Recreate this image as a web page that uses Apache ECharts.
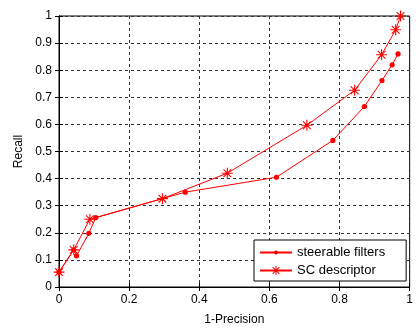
<!DOCTYPE html>
<html><head><meta charset="utf-8">
<script src="https://cdn.jsdelivr.net/npm/echarts@6/dist/echarts.min.js"></script>
<style>html,body{margin:0;padding:0;background:#fff}#c{width:416px;height:331px}</style>
</head><body><div id="c"></div>
<script>
// Data
const seriesNames = ['steerable filters', 'SC descriptor'];
const steerableX = [0, 0.042, 0.05, 0.085, 0.105, 0.36, 0.62, 0.781, 0.871, 0.921, 0.95, 0.967];
const steerableY = [0.055, 0.137, 0.115, 0.198, 0.256, 0.35, 0.405, 0.541, 0.666, 0.762, 0.82, 0.86];
const scX = [0, 0.042, 0.088, 0.295, 0.48, 0.707, 0.843, 0.92, 0.96, 0.974];
const scY = [0.055, 0.137, 0.25, 0.326, 0.42, 0.597, 0.726, 0.857, 0.949, 1.0];
const xTicks = [0, 0.2, 0.4, 0.6, 0.8, 1];
const yTicks = [0, 0.1, 0.2, 0.3, 0.4, 0.5, 0.6, 0.7, 0.8, 0.9, 1];

const pair = (xs, ys) => xs.map((x, i) => [x, ys[i]]);
const asterisk = 'path://M-1 -10L1 -10L1 10L-1 10Z M-10 -1L10 -1L10 1L-10 1Z M-7.7 -6.3L-6.3 -7.7L7.7 6.3L6.3 7.7Z M6.3 -7.7L7.7 -6.3L-6.3 7.7L-7.7 6.3Z';
// small dot inside a larger (empty) box so the legend icon stays small
const dot = 'path://M-10 -10L-10 -10Z M10 10L10 10Z M-4 0A4 4 0 1 1 4 0A4 4 0 1 1 -4 0Z';
const font = 'Liberation Sans';
const red = '#ff0000';

const chart = echarts.init(document.getElementById('c'), null, {renderer: 'canvas'});
const fmt = v => String(Math.round(v * 10) / 10);
const baseAxis = {
  min: 0, max: 1,
  axisLine: {show: true, lineStyle: {color: '#000', width: 1}},
  axisTick: {show: true, inside: true, length: 4, lineStyle: {color: '#000'}},
  splitLine: {show: false}
};
chart.setOption({
  animation: false,
  backgroundColor: '#fff',
  grid: {left: 59, right: 3, top: 16, bottom: 42, show: true, borderColor: '#000', borderWidth: 1},
  legend: {
    data: seriesNames, orient: 'vertical', left: 254, top: 240,
    backgroundColor: '#fff', borderColor: '#000', borderWidth: 1,
    padding: [6, 21, 4, 5], itemWidth: 32, itemHeight: 12, itemGap: 5,
    textStyle: {fontFamily: font, fontSize: 13, color: '#000'}
  },
  xAxis: [
    Object.assign({}, baseAxis, {
      type: 'value', position: 'bottom', interval: 0.2,
      name: '1-Precision', nameLocation: 'middle', nameGap: 27,
      nameTextStyle: {fontFamily: font, fontSize: 12, color: '#000'},
      axisLabel: {fontFamily: font, fontSize: 12, color: '#000', margin: 7, formatter: fmt},
      splitLine: {show: true, lineStyle: {color: '#333', type: [3, 3], width: 1}}
    }),
    Object.assign({}, baseAxis, {type: 'value', position: 'top', interval: 0.2, axisLabel: {show: false}})
  ],
  yAxis: [
    Object.assign({}, baseAxis, {
      type: 'value', position: 'left', interval: 0.1,
      name: 'Recall', nameLocation: 'middle', nameGap: 34, nameRotate: 90,
      nameTextStyle: {fontFamily: font, fontSize: 12, color: '#000'},
      axisLabel: {fontFamily: font, fontSize: 12, color: '#000', margin: 7, formatter: fmt},
      splitLine: {show: true, lineStyle: {color: '#333', type: [3, 3], width: 1}}
    }),
    Object.assign({}, baseAxis, {type: 'value', position: 'right', interval: 0.1, axisLabel: {show: false}})
  ],
  series: [
    {
      name: seriesNames[0], type: 'line', data: pair(steerableX, steerableY),
      symbol: dot, symbolSize: 13,
      lineStyle: {color: red, width: 1}, itemStyle: {color: red},
      z: 3
    },
    {
      name: seriesNames[1], type: 'line', data: pair(scX, scY),
      symbol: asterisk, symbolSize: 11,
      lineStyle: {color: red, width: 1}, itemStyle: {color: red},
      z: 4
    }
  ]
});
</script>
</body></html>
